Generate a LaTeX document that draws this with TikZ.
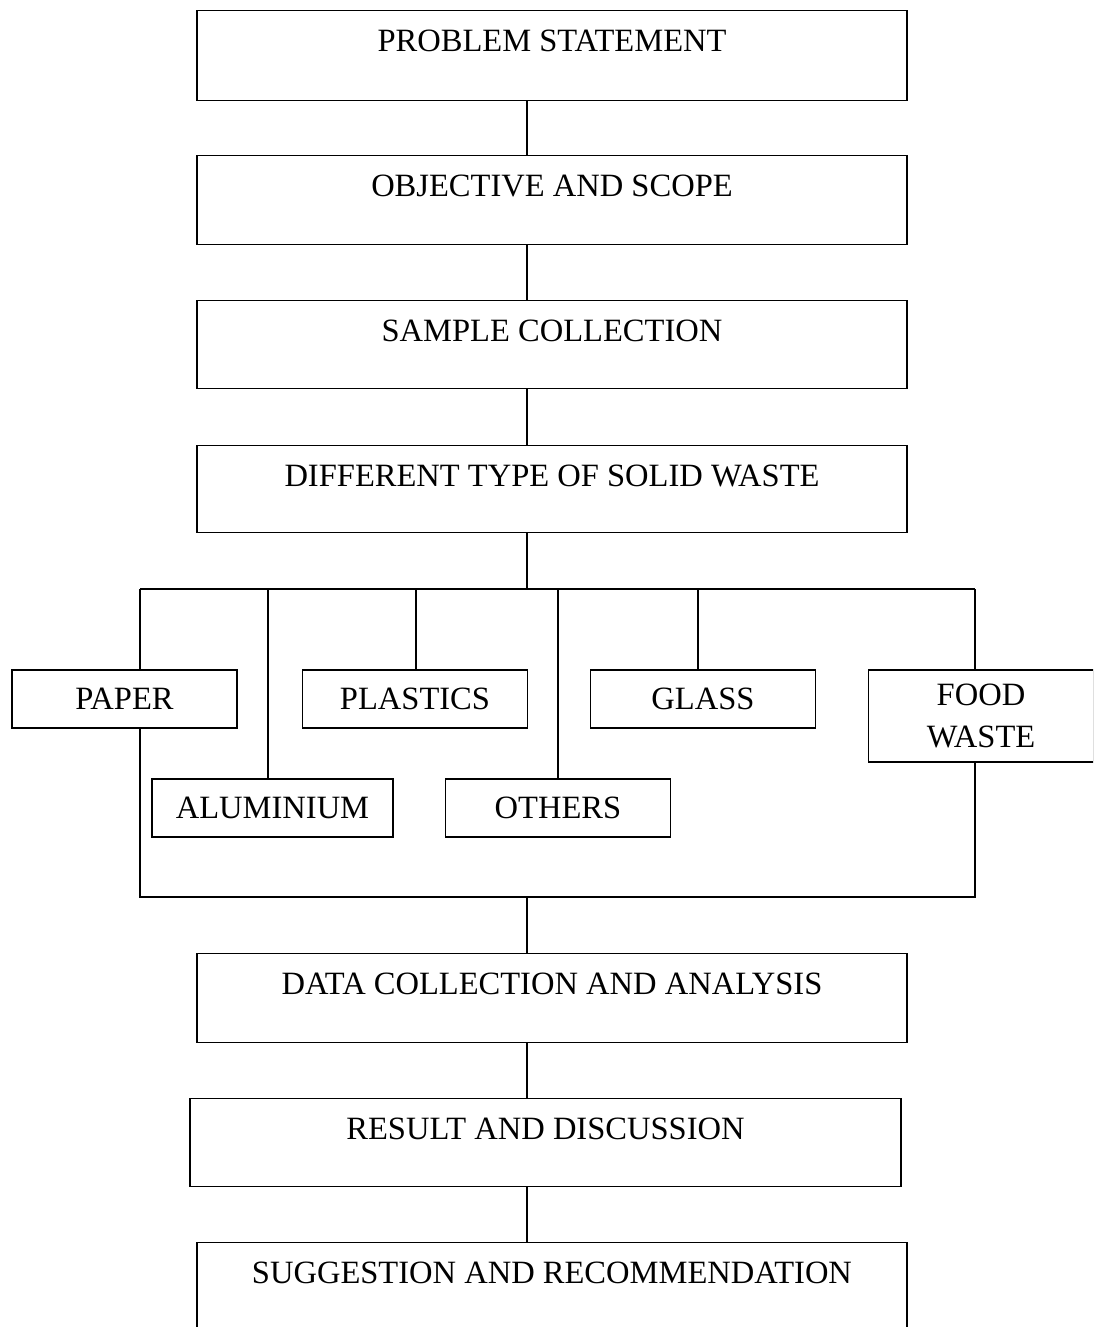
\documentclass[tikz,border=0pt]{standalone}
\usepackage{fontspec}
\setmainfont{Liberation Serif}
\begin{document}
\begin{tikzpicture}[x=0.75pt,y=-0.75pt,
  line width=1.1pt,
  bigbox/.style={draw, inner sep=0pt, anchor=north, minimum width=532.5pt,
    text height=30.75pt, text depth=#1, font=\fontsize{24.4}{32}\selectfont},
  smallbox/.style={draw, inner sep=0pt, minimum width=168.75pt, minimum height=43.5pt,
    align=center, font=\fontsize{24.4}{32}\selectfont}]
\useasboundingbox (0,0) rectangle (1093,1327);
\clip (0,0) rectangle (1093,1327);

\node[bigbox=36.75pt] (b1) at (552,10) {PROBLEM STATEMENT};
\node[bigbox=36pt] (b2) at (552,155) {OBJECTIVE AND SCOPE};
\node[bigbox=35.25pt] (b3) at (552,300) {SAMPLE COLLECTION};
\node[bigbox=34.5pt] (b4) at (552,445) {DIFFERENT TYPE OF SOLID WASTE};
\node[bigbox=36pt] (b5) at (552,953) {DATA COLLECTION AND ANALYSIS};
\node[bigbox=35.25pt, minimum width=533.25pt] (b6) at (545.5,1098) {RESULT AND DISCUSSION};
\node[bigbox=36.75pt] (b7) at (552,1242) {SUGGESTION AND RECOMMENDATION};

\node[smallbox] (paper) at (124.5,699) {PAPER};
\node[smallbox] (plastics) at (415,699) {PLASTICS};
\node[smallbox] (glass) at (703,699) {GLASS};
\node[smallbox, minimum height=69pt] (food) at (981,716) {FOOD\\WASTE};
\node[smallbox, minimum width=180.75pt] (alu) at (272.5,808) {ALUMINIUM};
\node[smallbox] (others) at (558,808) {OTHERS};

\coordinate (spine) at (527,0);
\coordinate (busL) at (140,589);
\coordinate (busR) at (975,589);
\coordinate (botL) at (140,897);
\coordinate (botR) at (975,897);
\coordinate (xalu) at (268,0);
\coordinate (xpla) at (416,0);
\coordinate (xoth) at (558,0);
\coordinate (xgla) at (698,0);

\draw (b1.south -| spine) -- (b2.north -| spine);
\draw (b2.south -| spine) -- (b3.north -| spine);
\draw (b3.south -| spine) -- (b4.north -| spine);
\draw (b4.south -| spine) -- (busL -| spine);
\draw (busL) -- (busR);
\draw (busL) -- (paper.north -| busL);
\draw (paper.south -| busL) -- (botL) -- (botR) -- (food.south -| busR);
\draw (busR) -- (food.north -| busR);
\draw (busL -| xalu) -- (alu.north -| xalu);
\draw (busL -| xpla) -- (plastics.north -| xpla);
\draw (busL -| xoth) -- (others.north -| xoth);
\draw (busL -| xgla) -- (glass.north -| xgla);
\draw (botL -| spine) -- (b5.north -| spine);
\draw (b5.south -| spine) -- (b6.north -| spine);
\draw (b6.south -| spine) -- (b7.north -| spine);
\end{tikzpicture}
\end{document}
